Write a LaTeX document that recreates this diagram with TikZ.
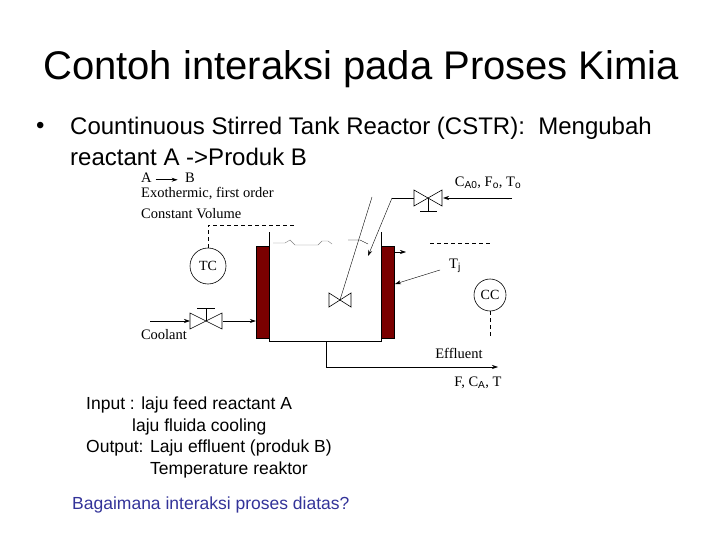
\documentclass[tikz,border=0pt]{standalone}
\usepackage{fontspec}
\setmainfont{Liberation Sans}
\newfontfamily\serf{Liberation Serif}
\usetikzlibrary{arrows.meta}
\definecolor{jack}{HTML}{7A0000}
\definecolor{qblue}{HTML}{333399}
\tikzset{
  pipe/.style={line width=0.6pt},
  arr/.style={pipe,-{Stealth[length=6pt,width=4pt]}},
  sig/.style={line width=0.6pt,dashed,dash pattern=on 4pt off 3pt},
  jacket/.style={fill=jack,draw=black,line width=0.4pt},
  ctrl/.style={circle,draw,line width=0.6pt,minimum size=36pt,inner sep=0pt,font=\serf\fontsize{14}{16}\selectfont},
  lab/.style={font=\serf\fontsize{14.5}{16}\selectfont,inner sep=0pt},
  txt/.style={anchor=west,inner sep=0pt}
}
\begin{document}
\begin{tikzpicture}[x=1pt,y=-1pt]
\useasboundingbox (0,0) rectangle (720,540);
\node[txt,font=\fontsize{40}{44}\selectfont] (title) at (43,69) {Contoh interaksi pada Proses Kimia};
\node[txt,font=\fontsize{24}{28}\selectfont] (b1) at (36,128) {•};
\node[txt,font=\fontsize{24}{28}\selectfont] (l1) at (70,128) {Countinuous Stirred Tank Reactor (CSTR):\ \ Mengubah};
\node[txt,font=\fontsize{24}{28}\selectfont] (l2) at (70,157) {reactant A ->Produk B};
% diagram labels
\node[lab,anchor=west] (ab) at (141,178) {A \tikz[baseline=-3pt]\draw[arr](0,0)--(22pt,0); \ B};
\node[lab,anchor=west] (exo) at (141,194) {Exothermic, first order};
\node[lab,anchor=west] (cv) at (141,214) {Constant Volume};
% tank
\draw[pipe] (269,232) -- (269,341) -- (381,341) -- (381,232);
\node[jacket,minimum width=13pt,minimum height=92pt,inner sep=0pt] (jl) at (262.5,292) {};
\node[jacket,minimum width=13pt,minimum height=92pt,inner sep=0pt] (jr) at (387.5,292) {};
\draw[line width=0.4pt,gray] (273,243) -- (285,243) -- (290,240) -- (295,245) -- (318,245) -- (322,241) -- (328,241) -- (332,244);
\draw[line width=0.4pt] (348,240) -- (360,240) -- (368,244);
% stirrer valve
\coordinate (st) at (340,300);
\draw[pipe] (st) -- ++(-11,-7) -- ++(0,14) -- cycle;
\draw[pipe] (st) -- ++(11,-7) -- ++(0,14) -- cycle;
\draw[line width=0.4pt] (st) -- (372,197);
% outlet
\coordinate (o1) at (326,341);
\coordinate (o2) at (498,367);
\draw[arr] (o1) |- (o2);
\node[lab] (eff) at (459,353) {Effluent};
\node[lab] (out) at (478,383) {F, C$_\mathrm{A}$, T};
% feed
\coordinate (fin) at (512,198);
\coordinate (fv) at (428,198);
\draw[arr] (fin) -- (443,198);
\draw[pipe] (fv) -- ++(-14,-8) -- ++(0,16) -- cycle;
\draw[pipe] (fv) -- ++(14,-8) -- ++(0,16) -- cycle;
\draw[pipe] (fv) -- (428,211) (420,211) -- (437,211);
\draw[pipe] (414,198) -- (392,198);
\draw[arr,line width=0.4pt] (392,198) -- (368,256);
\node[lab] (feed) at (488,183) {C$_\mathrm{A0}$, F$_\mathrm{o}$, T$_\mathrm{o}$};
% TC
\node[ctrl] (tc) at (208,266) {TC};
\draw[sig] (tc.north) -- (208,225) -- (297,225);
% CC
\node[ctrl,minimum size=32pt] (cc) at (490,295) {CC};
\draw[sig] (cc.south) -- (490,338);
\draw[sig] (430,243) -- (490,243);
% jacket out and Tj
\draw[arr] (394,252) -- (406,252);
\node[lab] (tj) at (455,266) {T$_\mathrm{j}$};
\draw[arr,line width=0.4pt] (440,270) -- (395,284);
% coolant
\coordinate (cva) at (206,321);
\draw[arr] (150,321) -- (190,321);
\draw[pipe] (cva) -- ++(-16,-8) -- ++(0,16) -- cycle;
\draw[pipe] (cva) -- ++(16,-8) -- ++(0,16) -- cycle;
\draw[pipe] (cva) -- (206,308) (197,308) -- (215,308);
\draw[arr] (223,321) -- (jl.west |- 0,321);
\node[lab] (cool) at (164,335) {Coolant};
% bottom text
\node[txt,font=\fontsize{17.5}{20}\selectfont] (i1) at (86,405) {Input : laju feed reactant A};
\node[txt,font=\fontsize{17.5}{20}\selectfont] (i2) at (132,427) {laju fluida cooling};
\node[txt,font=\fontsize{17.5}{20}\selectfont] (o1t) at (86,448) {Output: Laju effluent (produk B)};
\node[txt,font=\fontsize{17.5}{20}\selectfont] (o2t) at (150,470) {Temperature reaktor};
\node[txt,font=\fontsize{17.5}{20}\selectfont,text=qblue] (q) at (72,505) {Bagaimana interaksi proses diatas?};
\end{tikzpicture}
\end{document}
